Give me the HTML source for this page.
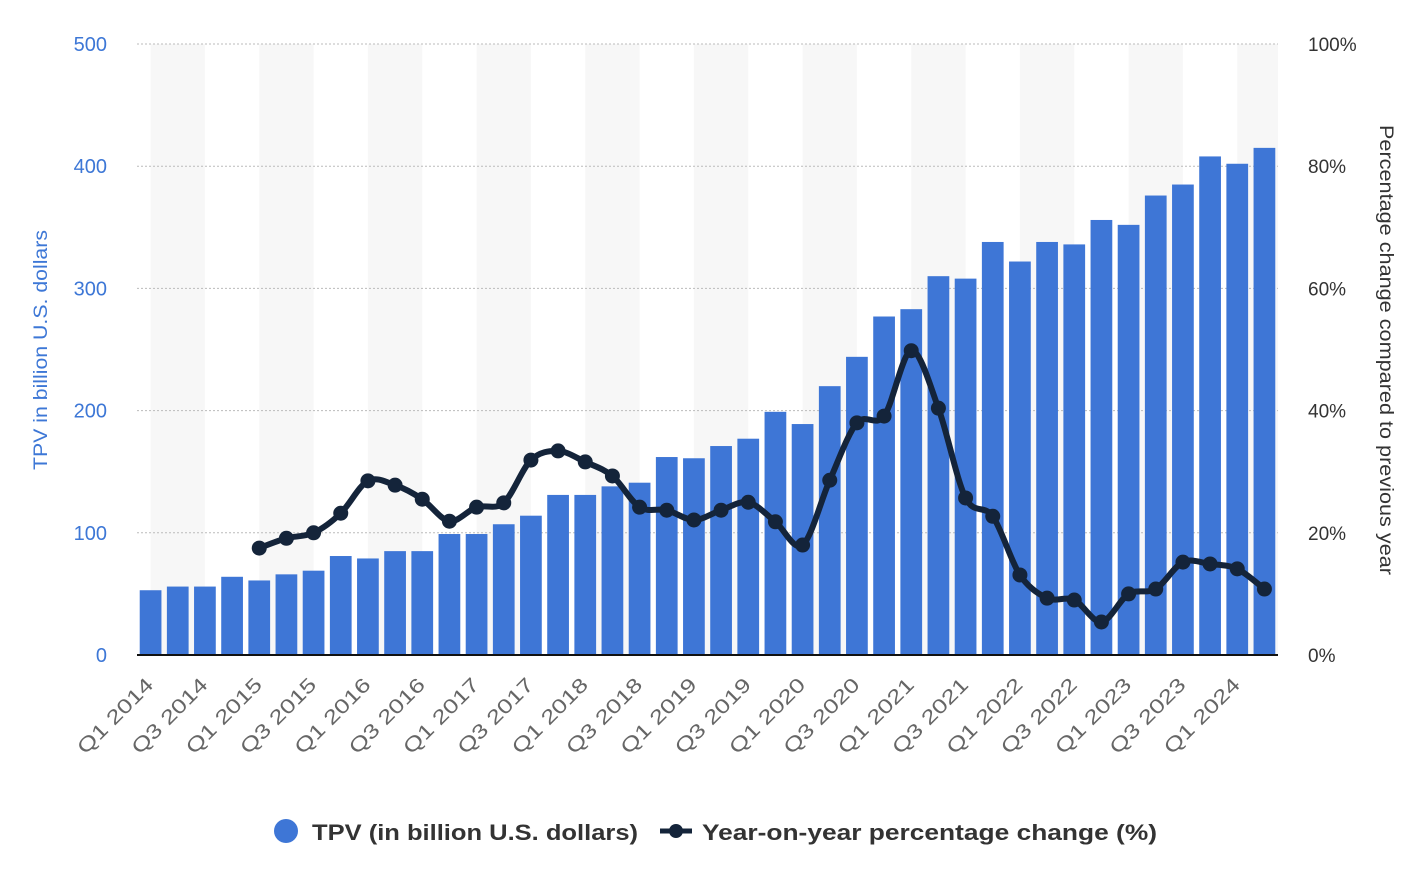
<!DOCTYPE html>
<html><head><meta charset="utf-8"><style>
body{margin:0;background:#fff;font-family:"Liberation Sans",sans-serif;}
svg text{font-family:"Liberation Sans",sans-serif;}
</style></head><body>
<svg id="chart" width="1410" height="868" xmlns="http://www.w3.org/2000/svg"></svg>
<script>
const categories=["Q1 2014","Q2 2014","Q3 2014","Q4 2014","Q1 2015","Q2 2015","Q3 2015","Q4 2015","Q1 2016","Q2 2016","Q3 2016","Q4 2016","Q1 2017","Q2 2017","Q3 2017","Q4 2017","Q1 2018","Q2 2018","Q3 2018","Q4 2018","Q1 2019","Q2 2019","Q3 2019","Q4 2019","Q1 2020","Q2 2020","Q3 2020","Q4 2020","Q1 2021","Q2 2021","Q3 2021","Q4 2021","Q1 2022","Q2 2022","Q3 2022","Q4 2022","Q1 2023","Q2 2023","Q3 2023","Q4 2023","Q1 2024","Q2 2024"];
const tpvValues=[53,56,56,64,61,66,69,81,79,85,85,99,99,107,114,131,131,138,141,162,161,171,177,199,189,220,244,277,283,310,308,338,322,338,336,356,352,376,385,408,402,415];
const yoyValues=[null,null,null,null,17.5,19.1,20,23.2,28.5,27.8,25.5,21.9,24.2,24.9,31.9,33.4,31.6,29.3,24.2,23.7,22.1,23.7,25,21.8,18,28.6,38,39.1,49.8,40.4,25.7,22.7,13.1,9.3,9,5.4,10,10.8,15.2,14.9,14.1,10.8];
const leftTicks=[0,100,200,300,400,500];
const rightTicks=["0%","20%","40%","60%","80%","100%"];

const svg=document.getElementById('chart');
const NS='http://www.w3.org/2000/svg';
const X0=137,X1=1278,Y0=655,Y1=44;
const band=(X1-X0)/categories.length;
const xc=i=>X0+band*(i+0.5);
const yL=v=>Y0-(v/500)*(Y0-Y1);
const yR=v=>Y0-(v/100)*(Y0-Y1);
function mk(tag,attrs,parent){const e=document.createElementNS(NS,tag);for(const k in attrs)e.setAttribute(k,attrs[k]);(parent||svg).appendChild(e);return e;}

for(let i=0;i<categories.length;i+=4){
  const x=xc(i),w=Math.min(xc(i+2),X1)-x;
  const r=mk('rect',{x:x,y:Y1,width:w,height:Y0-Y1,fill:'#f7f7f7'});
  
  
}
leftTicks.forEach((t,k)=>{
  const y=yL(t);
  if(t>0){const g=mk('line',{x1:X0,x2:X1,y1:y,y2:y,stroke:'#bbb','stroke-dasharray':'2,2'});
  
  }
  const lt=mk('text',{x:107,y:y+7,'text-anchor':'end','font-size':20,fill:'#3d77d6'});lt.textContent=t;
  
  
  const rt=mk('text',{x:1308,y:y+7,'font-size':19,fill:'#333'});rt.textContent=rightTicks[k];
  
  
});
tpvValues.forEach((v,i)=>{
  const w=band*0.8;
  const b=mk('rect',{x:xc(i)-w/2,y:yL(v),width:w,height:Y0-yL(v),fill:'#3e76d6'});
  
  
});
const ax=mk('line',{x1:X0,x2:X1,y1:Y0,y2:Y0,stroke:'#111','stroke-width':2});


const pts=[];yoyValues.forEach((v,i)=>{if(v!==null)pts.push([xc(i),yR(v)]);});
let d='M'+pts[0][0]+','+pts[0][1];
for(let i=0;i<pts.length-1;i++){
  const p0=pts[Math.max(i-1,0)],p1=pts[i],p2=pts[i+1],p3=pts[Math.min(i+2,pts.length-1)];
  const t=0.16;
  d+=` C${p1[0]+(p2[0]-p0[0])*t},${p1[1]+(p2[1]-p0[1])*t} ${p2[0]-(p3[0]-p1[0])*t},${p2[1]-(p3[1]-p1[1])*t} ${p2[0]},${p2[1]}`;
}
const ln=mk('path',{d:d,fill:'none',stroke:'#14243a','stroke-width':6});


pts.forEach(p=>{const c=mk('circle',{cx:p[0],cy:p[1],r:7.5,fill:'#14243a'});
  
  });
categories.forEach((c,i)=>{if(i%2)return;
  const x=xc(i)+4,y=686;
  const t=mk('text',{x:x,y:y,'text-anchor':'end','font-size':20,fill:'#666',textLength:98,lengthAdjust:'spacingAndGlyphs',transform:`rotate(-45 ${x} ${y})`});t.textContent=c;
  
  
});
</script>
<svg style="position:absolute;left:0;top:0" width="1410" height="868" xmlns="http://www.w3.org/2000/svg">
<text x="47" y="350" transform="rotate(-90 47 350)" text-anchor="middle" font-size="19" fill="#3d77d6" textLength="240" lengthAdjust="spacingAndGlyphs">TPV in billion U.S. dollars</text>
<text x="1380" y="350" transform="rotate(90 1380 350)" text-anchor="middle" font-size="19" fill="#333" textLength="450" lengthAdjust="spacingAndGlyphs">Percentage change compared to previous year</text>
<g>
<circle cx="286" cy="831" r="12" fill="#3e76d6"/>
<text x="312" y="840" font-size="22" font-weight="bold" fill="#333" textLength="326" lengthAdjust="spacingAndGlyphs">TPV (in billion U.S. dollars)</text>
<line x1="660" x2="692" y1="831" y2="831" stroke="#14243a" stroke-width="5"/>
<circle cx="676" cy="831" r="7" fill="#14243a"/>
<text x="702" y="840" font-size="22" font-weight="bold" fill="#333" textLength="455" lengthAdjust="spacingAndGlyphs">Year-on-year percentage change (%)</text>
</g>
</svg>
</body></html>
